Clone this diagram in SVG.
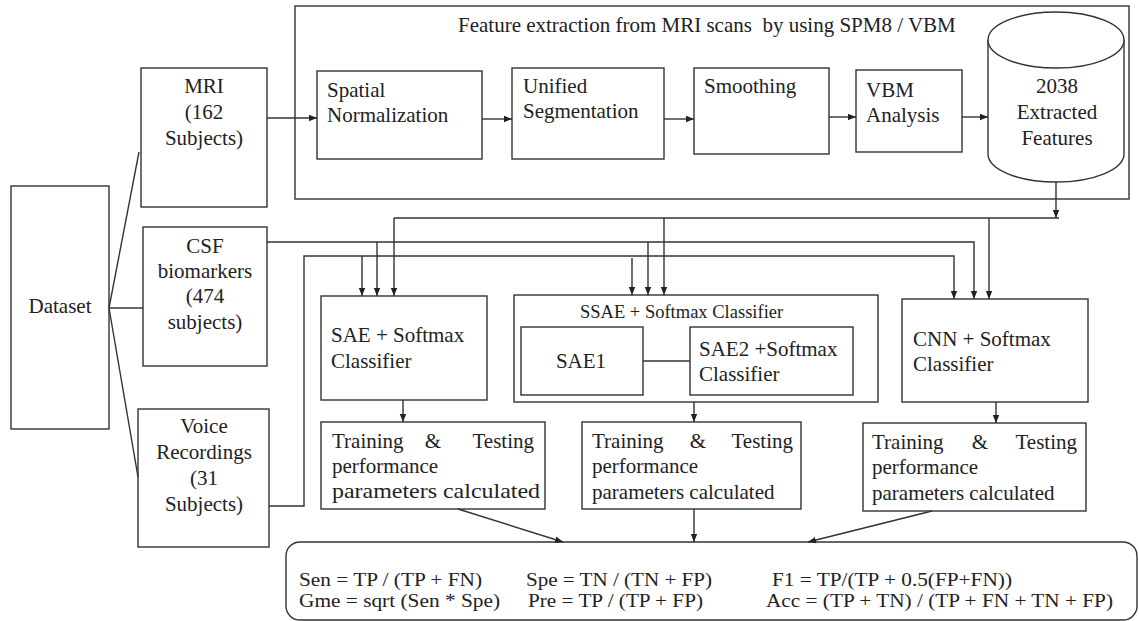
<svg xmlns="http://www.w3.org/2000/svg" width="1139" height="621" viewBox="0 0 1139 621">
<style>
  .box { fill: #fff; stroke: #333; stroke-width: 1.4; }
  .ln { fill: none; stroke: #333; stroke-width: 1.4; }
  text { font-family: "Liberation Serif", "Times New Roman", serif; font-size: 21px; fill: #222; }
  .c { text-anchor: middle; }
  .e { text-anchor: end; }
  .sm { font-size: 18.5px; }
  .f { font-size: 19px; }
</style>
<defs>
  <marker id="ah" viewBox="0 0 10 10" refX="10" refY="5" markerWidth="8" markerHeight="8" markerUnits="userSpaceOnUse" orient="auto">
    <path d="M0,1 L10,5 L0,9 z" fill="#222"/>
  </marker>
</defs>
<rect width="1139" height="621" fill="#fff"/>

<g id="feature-container">
  <rect class="box" x="295" y="6" width="834" height="193"/>
  <text x="458" y="32" xml:space="preserve">Feature extraction from MRI scans  by using SPM8 / VBM</text>
</g>

<g id="dataset">
  <rect class="box" x="11" y="186" width="98" height="243"/>
  <text class="c" x="60" y="313">Dataset</text>
</g>

<g id="mri">
  <rect class="box" x="141" y="68" width="126" height="139"/>
  <text class="c" x="204" y="93">MRI</text>
  <text class="c" x="204" y="119">(162</text>
  <text class="c" x="204" y="145">Subjects)</text>
</g>

<g id="csf">
  <rect class="box" x="143" y="227" width="124" height="139"/>
  <text class="c" x="205" y="253">CSF</text>
  <text class="c" x="205" y="278">biomarkers</text>
  <text class="c" x="205" y="303">(474</text>
  <text class="c" x="205" y="329">subjects)</text>
</g>

<g id="voice">
  <rect class="box" x="138" y="409" width="131" height="138"/>
  <text class="c" x="204" y="433">Voice</text>
  <text class="c" x="204" y="459">Recordings</text>
  <text class="c" x="204" y="485">(31</text>
  <text class="c" x="204" y="511">Subjects)</text>
</g>

<g id="spatial">
  <rect class="box" x="317" y="71" width="165" height="88"/>
  <text x="327" y="97">Spatial</text>
  <text x="327" y="122">Normalization</text>
</g>

<g id="unified">
  <rect class="box" x="512" y="68" width="152" height="91"/>
  <text x="523" y="93">Unified</text>
  <text x="523" y="118">Segmentation</text>
</g>

<g id="smoothing">
  <rect class="box" x="694" y="68" width="135" height="86"/>
  <text x="704" y="93">Smoothing</text>
</g>

<g id="vbm">
  <rect class="box" x="856" y="70" width="106" height="82"/>
  <text x="866" y="97">VBM</text>
  <text x="866" y="122">Analysis</text>
</g>

<g id="features">
  <path class="box" d="M988,40 L988,154 A68,28 0 0 0 1124,154 L1124,40"/>
  <ellipse class="box" cx="1056" cy="40" rx="68" ry="28"/>
  <text class="c" x="1057" y="93">2038</text>
  <text class="c" x="1057" y="119">Extracted</text>
  <text class="c" x="1057" y="145">Features</text>
</g>

<g id="sae">
  <rect class="box" x="321" y="296" width="166" height="104"/>
  <text x="331" y="342">SAE + Softmax</text>
  <text x="331" y="368">Classifier</text>
</g>

<g id="ssae">
  <rect class="box" x="514" y="295" width="364" height="107"/>
  <text class="sm" x="580" y="318">SSAE + Softmax Classifier</text>
  <rect class="box" x="521" y="327" width="122" height="68"/>
  <text class="c" x="581" y="368">SAE1</text>
  <rect class="box" x="690" y="327" width="163" height="68"/>
  <text x="699" y="356">SAE2 +Softmax</text>
  <text x="699" y="381">Classifier</text>
</g>

<g id="cnn">
  <rect class="box" x="902" y="299" width="186" height="103"/>
  <text x="913" y="346">CNN + Softmax</text>
  <text x="913" y="371">Classifier</text>
</g>

<g id="train1">
  <rect class="box" x="321" y="422" width="224" height="87"/>
  <text x="332" y="448">Training</text>
  <text class="c" x="433" y="448">&amp;</text>
  <text class="e" x="534" y="448">Testing</text>
  <text x="332" y="473">performance</text>
  <text x="332" y="498" textLength="208" lengthAdjust="spacingAndGlyphs">parameters calculated</text>
</g>

<g id="train2">
  <rect class="box" x="582" y="422" width="219" height="87"/>
  <text x="592" y="448">Training</text>
  <text class="c" x="698" y="448">&amp;</text>
  <text class="e" x="793" y="448">Testing</text>
  <text x="592" y="473">performance</text>
  <text x="592" y="499">parameters calculated</text>
</g>

<g id="train3">
  <rect class="box" x="863" y="423" width="223" height="88"/>
  <text x="872" y="449">Training</text>
  <text class="c" x="980" y="449">&amp;</text>
  <text class="e" x="1077" y="449">Testing</text>
  <text x="872" y="474">performance</text>
  <text x="872" y="500">parameters calculated</text>
</g>

<g id="metrics">
  <rect class="box" x="286" y="542" width="851" height="78" rx="14" ry="14"/>
  <text class="f" x="299" y="586" textLength="183" lengthAdjust="spacingAndGlyphs">Sen = TP / (TP + FN)</text>
  <text class="f" x="526" y="586" textLength="186" lengthAdjust="spacingAndGlyphs">Spe = TN / (TN + FP)</text>
  <text class="f" x="772" y="586" textLength="240" lengthAdjust="spacingAndGlyphs">F1 = TP/(TP + 0.5(FP+FN))</text>
  <text class="f" x="299" y="607" textLength="201" lengthAdjust="spacingAndGlyphs">Gme = sqrt (Sen * Spe)</text>
  <text class="f" x="528" y="607" textLength="175" lengthAdjust="spacingAndGlyphs">Pre = TP / (TP + FP)</text>
  <text class="f" x="766" y="607" textLength="347" lengthAdjust="spacingAndGlyphs">Acc = (TP + TN) / (TP + FN + TN + FP)</text>
</g>

<g id="connectors">
  <!-- dataset fan -->
  <path class="ln" d="M109,308 L139,152"/>
  <path class="ln" d="M109,308 L143,308"/>
  <path class="ln" d="M109,308 L138,477"/>
  <!-- MRI pipeline -->
  <path class="ln" d="M267,118 L317,118" marker-end="url(#ah)"/>
  <path class="ln" d="M482,119 L512,119" marker-end="url(#ah)"/>
  <path class="ln" d="M664,119 L694,119" marker-end="url(#ah)"/>
  <path class="ln" d="M829,117 L856,117" marker-end="url(#ah)"/>
  <path class="ln" d="M962,117 L988,117" marker-end="url(#ah)"/>
  <!-- features distribution -->
  <path class="ln" d="M1056,182 L1056,218" marker-end="url(#ah)"/>
  <path class="ln" d="M394,218 L1059,218"/>
  <path class="ln" d="M394,218 L394,296" marker-end="url(#ah)"/>
  <path class="ln" d="M664,218 L664,295" marker-end="url(#ah)"/>
  <path class="ln" d="M989,218 L989,299" marker-end="url(#ah)"/>
  <!-- CSF distribution -->
  <path class="ln" d="M267,242 L974,242 L974,299" marker-end="url(#ah)"/>
  <path class="ln" d="M377,242 L377,296" marker-end="url(#ah)"/>
  <path class="ln" d="M648,242 L648,295" marker-end="url(#ah)"/>
  <!-- Voice distribution -->
  <path class="ln" d="M269,506 L304,506 L304,256 L954,256 L954,299" marker-end="url(#ah)"/>
  <path class="ln" d="M362,256 L362,296" marker-end="url(#ah)"/>
  <path class="ln" d="M632,258 L632,295" marker-end="url(#ah)"/>
  <!-- SSAE internal -->
  <path class="ln" d="M643,361 L690,361"/>
  <!-- classifiers to training -->
  <path class="ln" d="M403,400 L403,422" marker-end="url(#ah)"/>
  <path class="ln" d="M694,402 L694,422" marker-end="url(#ah)"/>
  <path class="ln" d="M996,402 L996,423" marker-end="url(#ah)"/>
  <!-- training to metrics -->
  <path class="ln" d="M458,509 L563,542" marker-end="url(#ah)"/>
  <path class="ln" d="M694,509 L694,542" marker-end="url(#ah)"/>
  <path class="ln" d="M932,511 L808,542" marker-end="url(#ah)"/>
</g>
</svg>
